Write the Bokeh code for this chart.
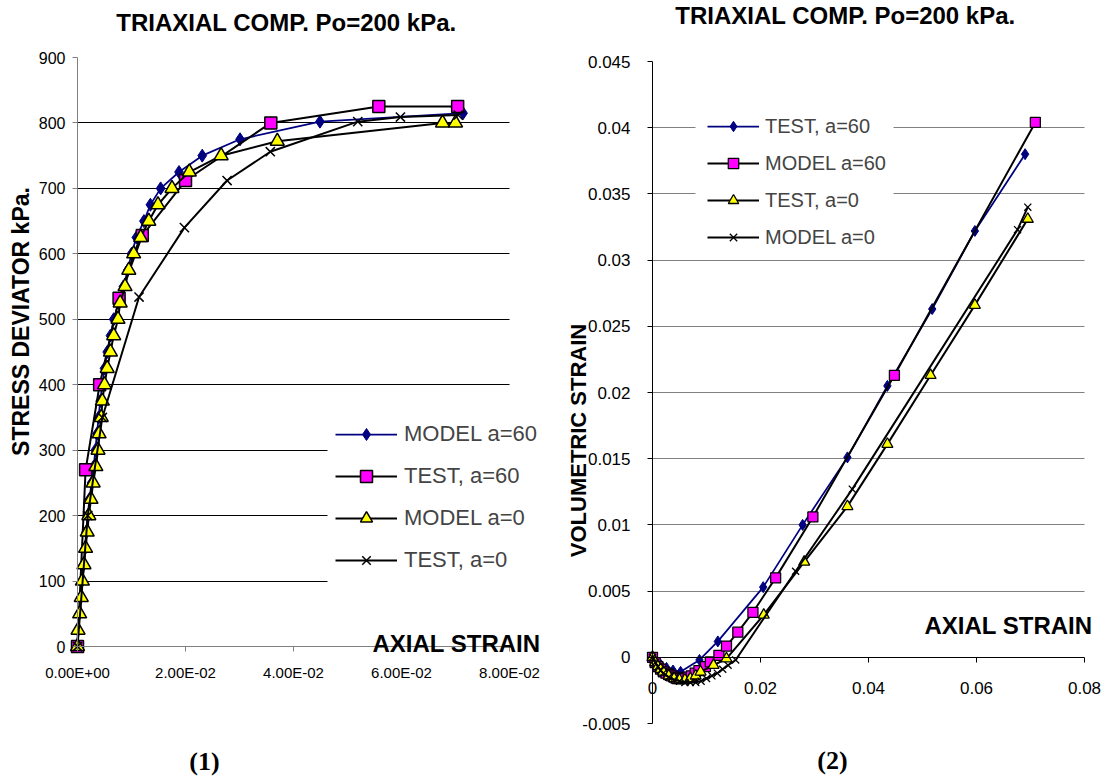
import math
from bokeh.plotting import figure
from bokeh.layouts import row
from bokeh.models import (Range1d, SingleIntervalTicker, FixedTicker,
                          CustomJSTickFormatter, Label, BoxAnnotation)
from bokeh.embed import file_html
from bokeh.resources import INLINE

# ---------------- Chart (1): stress deviator vs axial strain ----------------
model60_strain = [0.0, 0.0001, 0.0003, 0.0006, 0.0008, 0.0011, 0.0014, 0.0016, 0.0019, 0.0022,
                  0.0026, 0.0030, 0.0033, 0.0036, 0.0039, 0.0042, 0.0046, 0.0050, 0.0055, 0.0061,
                  0.0067, 0.0076, 0.0085, 0.0093, 0.0100, 0.0109, 0.0123, 0.0135, 0.0154, 0.0188,
                  0.0231, 0.0301, 0.0449, 0.0714]
model60_q = [0, 25, 50, 75, 100, 125, 150, 175, 200, 225, 250, 275, 300, 325, 350, 375, 400,
             425, 450, 475, 500, 525, 550, 575, 600, 625, 650, 675, 700, 725, 750, 775, 802, 815]

test60_strain = [0.0, 0.0015, 0.0041, 0.0077, 0.0120, 0.0200, 0.0358, 0.0558, 0.0704]
test60_q = [0, 270, 400, 532, 628, 712, 800, 825, 825]

model0_strain = [0.0, 0.0001, 0.0004, 0.0007, 0.0009, 0.0012, 0.0015, 0.0018, 0.0021, 0.0025,
                 0.0029, 0.0034, 0.0038, 0.0040, 0.0044, 0.0046, 0.0050, 0.0055, 0.0061, 0.0067,
                 0.0075, 0.0079, 0.0088, 0.0095, 0.0104, 0.0117, 0.0132, 0.0149, 0.0175, 0.0207,
                 0.0266, 0.0370, 0.0676, 0.0700]
model0_q = [0, 25, 50, 75, 100, 125, 150, 175, 200, 225, 250, 275, 300, 325, 350, 375, 400,
            425, 450, 475, 500, 525, 550, 575, 600, 625, 650, 675, 700, 725, 750, 772, 800, 800]

test0_strain = [0.0, 0.0019, 0.0046, 0.0114, 0.0198, 0.0277, 0.0357, 0.0519, 0.0598, 0.0705]
test0_q = [0, 200, 350, 534, 640, 712, 756, 802, 809, 812]

left_grid = [100, 200, 300, 400, 500, 600, 700, 800]

# ---------------- Chart (2): volumetric strain vs axial strain ----------------
r_test60_ea = [0.0, 0.0008, 0.0016, 0.0026, 0.0038, 0.0052, 0.0087, 0.0121, 0.0205, 0.0278,
               0.0361, 0.0435, 0.0518, 0.0597, 0.0690]
r_test60_ev = [0.0, -0.0003, -0.0006, -0.0008, -0.0010, -0.0011, -0.0002, 0.0012, 0.0053, 0.0100,
               0.0151, 0.0205, 0.0263, 0.0322, 0.0380]

r_model60_ea = [0.0, 0.0005, 0.0010, 0.0015, 0.0020, 0.0025, 0.0030, 0.0035, 0.0040, 0.0045,
                0.0050, 0.0055, 0.0060, 0.0066, 0.0072, 0.0079, 0.0086, 0.0098, 0.0107, 0.0123,
                0.0137, 0.0158, 0.0186, 0.0228, 0.0297, 0.0448, 0.0709]
r_model60_ev = [0.0, -0.0004, -0.0007, -0.0009, -0.0011, -0.0012, -0.0013, -0.0014, -0.0015, -0.0016,
                -0.0016, -0.0016, -0.0016, -0.0015, -0.0014, -0.0012, -0.0010, -0.0007, -0.00035, 0.00015,
                0.00085, 0.0019, 0.0034, 0.0060, 0.0106, 0.0213, 0.0404]

r_test0_ea = [0.0, 0.0005, 0.0010, 0.0015, 0.0020, 0.0030, 0.0040, 0.0050, 0.0060, 0.0070,
              0.0080, 0.0089, 0.0113, 0.0137, 0.0206, 0.0281, 0.0361, 0.0435, 0.0515, 0.0597, 0.0695]
r_test0_ev = [0.0, -0.0004, -0.0007, -0.0009, -0.0011, -0.0014, -0.0016, -0.0017, -0.0017, -0.0016,
              -0.0014, -0.0011, -0.0006, -0.0001, 0.0032, 0.0072, 0.0114, 0.0161, 0.0213, 0.0266, 0.0331]

r_model0_ea = [0.0, 0.0005, 0.0010, 0.0015, 0.0020, 0.0030, 0.0040, 0.0050, 0.0060, 0.0070,
               0.0080, 0.0090, 0.0100, 0.0110, 0.0120, 0.0130, 0.0140, 0.0154, 0.0265, 0.0370,
               0.0676, 0.0695]
r_model0_ev = [0.0, -0.0004, -0.0007, -0.0010, -0.0012, -0.0015, -0.0017, -0.0018, -0.0019, -0.0019,
               -0.0019, -0.0018, -0.0016, -0.0014, -0.0012, -0.0009, -0.0006, -0.0002, 0.0065, 0.0127,
               0.0323, 0.0340]

right_grid = [0.005, 0.01, 0.015, 0.02, 0.025, 0.03, 0.035, 0.04]

NAVY = "#000080"
MAGENTA = "#FF00FF"
YELLOW = "#FFFF00"
FONT = "Liberation Sans"
SERIF = "Liberation Serif"

H = 778  # canvas height (bokeh's page template has no body margin)

sci_fmt = CustomJSTickFormatter(code="""
const s = tick.toExponential(2).toUpperCase();
const parts = s.split('E');
let e = parts[1];
let sign = '+';
if (e[0] === '-') { sign = '-'; e = e.slice(1); } else if (e[0] === '+') { e = e.slice(1); }
if (e.length < 2) { e = '0' + e; }
return parts[0] + 'E' + sign + e;
""")
plain_fmt = CustomJSTickFormatter(code="return String(Math.round(tick*100000)/100000);")


def add_label(p, x, y, text, size, align="center", baseline="middle", angle=0.0,
              font=FONT, style="bold"):
    # x, y: pixel position inside the canvas, y measured from the top
    p.add_layout(Label(x=x, y=H - y, x_units="screen", y_units="screen", text=text,
                       text_align=align, text_baseline=baseline, angle=angle,
                       text_font=font, text_font_style=style, text_font_size=size,
                       text_color="black"))


def legend_backdrop(p, left, right, top, bottom):
    # white area behind the legend (pixels, y from the top), hides the grid lines there
    p.add_layout(BoxAnnotation(left=left, right=right, top=H - top, bottom=H - bottom,
                               left_units="screen", right_units="screen",
                               top_units="screen", bottom_units="screen",
                               fill_color="white", fill_alpha=1.0, line_color=None,
                               level="underlay"))


def style_axis(ax, color, size, standoff):
    ax.axis_line_color = color
    ax.major_tick_line_color = color
    ax.minor_tick_line_color = None
    ax.major_tick_in = 0
    ax.major_tick_out = 5
    ax.major_label_text_font = FONT
    ax.major_label_text_color = "black"
    ax.major_label_text_font_size = size
    ax.major_label_standoff = standoff


def style_legend(lg, loc, gw, gh, spacing, pad, standoff, size):
    lg.location = loc
    lg.glyph_width = gw
    lg.glyph_height = gh
    lg.label_height = gh
    lg.spacing = spacing
    lg.padding = pad
    lg.margin = 0
    lg.label_standoff = standoff
    lg.label_text_font = FONT
    lg.label_text_font_size = size
    lg.border_line_color = None
    lg.background_fill_color = "white"
    lg.background_fill_alpha = 1.0


# ============================ LEFT FIGURE ============================
L_W = 560
LX0, LX1 = 77, 509      # pixel of strain 0 and 0.08
LY0, LY1 = 646, 57      # pixel (from top) of q 0 and 900
lsx = (LX1 - LX0) / 0.08
lsy = (LY0 - LY1) / 900.0

p1 = figure(frame_width=L_W, frame_height=H, min_border=0,
            x_range=Range1d(-LX0 / lsx, (L_W - LX0) / lsx),
            y_range=Range1d(-(H - LY0) / lsy, LY0 / lsy),
            output_backend="svg", toolbar_location=None)
p1.outline_line_color = None
p1.background_fill_color = "white"
p1.border_fill_color = "white"

p1.xgrid.visible = False
p1.ygrid.ticker = FixedTicker(ticks=left_grid)
p1.ygrid.grid_line_color = "black"
p1.ygrid.grid_line_width = 1
p1.ygrid.cross_bounds = (0, 0.08)

legend_backdrop(p1, 327, 560, 400, 592)

xa1 = p1.xaxis[0]
xa1.fixed_location = 0
xa1.bounds = (0, 0.08)
xa1.ticker = SingleIntervalTicker(interval=0.02, num_minor_ticks=0)
xa1.formatter = sci_fmt
style_axis(xa1, "#808080", "15px", 12)

ya1 = p1.yaxis[0]
ya1.fixed_location = 0
ya1.bounds = (0, 900)
ya1.ticker = SingleIntervalTicker(interval=100, num_minor_ticks=0)
style_axis(ya1, "#808080", "16px", 7)

p1.line(model60_strain, model60_q, line_color=NAVY, line_width=1.75, legend_label="MODEL a=60")
p1.scatter(model60_strain, model60_q, marker="diamond", size=13, fill_color=NAVY,
           line_color=NAVY, line_width=1, legend_label="MODEL a=60")

p1.line(test60_strain, test60_q, line_color="black", line_width=2, legend_label="TEST, a=60")
p1.scatter(test60_strain, test60_q, marker="square", size=12, fill_color=MAGENTA,
           line_color="black", line_width=1.5, legend_label="TEST, a=60")

p1.line(model0_strain, model0_q, line_color="black", line_width=2, legend_label="MODEL a=0")
p1.scatter(model0_strain, model0_q, marker="triangle", size=14, fill_color=YELLOW,
           line_color="black", line_width=1.5, legend_label="MODEL a=0")

p1.line(test0_strain, test0_q, line_color="black", line_width=2, legend_label="TEST, a=0")
p1.scatter(test0_strain, test0_q, marker="x", size=13, line_color="black",
           line_width=1.5, legend_label="TEST, a=0")

style_legend(p1.legend[0], (335, 203), 62, 30, 12, 10, 7, "22px")

add_label(p1, 286, 22, "TRIAXIAL COMP. Po=200 kPa.", "24px")
add_label(p1, 20, 321, "STRESS DEVIATOR kPa.", "23px", angle=math.pi / 2)
add_label(p1, 540, 643, "AXIAL STRAIN", "24px", align="right", baseline="alphabetic")
add_label(p1, 204, 761, "(1)", "26px", font=SERIF)

# ============================ RIGHT FIGURE ============================
R_OFF = 560
R_W = 544
RX0, RX1 = 652 - R_OFF, 1084 - R_OFF   # pixel of strain 0 and 0.08
RY0, RY1 = 723, 61                     # pixel (from top) of -0.005 and 0.045
rsx = (RX1 - RX0) / 0.08
rsy = (RY0 - RY1) / 0.05

p2 = figure(frame_width=R_W, frame_height=H, min_border=0,
            x_range=Range1d(-RX0 / rsx, (R_W - RX0) / rsx),
            y_range=Range1d(-0.005 - (H - RY0) / rsy, -0.005 + RY0 / rsy),
            output_backend="svg", toolbar_location=None)
p2.outline_line_color = None
p2.background_fill_color = "white"
p2.border_fill_color = "white"

p2.xgrid.visible = False
p2.ygrid.ticker = FixedTicker(ticks=right_grid)
p2.ygrid.grid_line_color = "#808080"
p2.ygrid.grid_line_width = 1
p2.ygrid.cross_bounds = (0, 0.08)

legend_backdrop(p2, 695 - R_OFF, 893 - R_OFF, 106, 252)

xa2 = p2.xaxis[0]
xa2.fixed_location = 0
xa2.bounds = (0, 0.08)
xa2.ticker = SingleIntervalTicker(interval=0.02, num_minor_ticks=0)
xa2.formatter = plain_fmt
style_axis(xa2, "black", "17px", 20)

ya2 = p2.yaxis[0]
ya2.fixed_location = 0
ya2.bounds = (-0.005, 0.045)
ya2.ticker = SingleIntervalTicker(interval=0.005, num_minor_ticks=0)
ya2.formatter = plain_fmt
style_axis(ya2, "black", "17px", 17)

p2.line(r_test60_ea, r_test60_ev, line_color=NAVY, line_width=1.75, legend_label="TEST, a=60")
p2.scatter(r_test60_ea, r_test60_ev, marker="diamond", size=11, fill_color=NAVY,
           line_color=NAVY, line_width=1, legend_label="TEST, a=60")

p2.line(r_model60_ea, r_model60_ev, line_color="black", line_width=2, legend_label="MODEL a=60")
p2.scatter(r_model60_ea, r_model60_ev, marker="square", size=10, fill_color=MAGENTA,
           line_color="black", line_width=1.3, legend_label="MODEL a=60")

p2.line(r_test0_ea, r_test0_ev, line_color="black", line_width=2, legend_label="TEST, a=0")
p2.scatter(r_test0_ea, r_test0_ev, marker="triangle", size=11, fill_color=YELLOW,
           line_color="black", line_width=1.3, legend_label="TEST, a=0")

p2.line(r_model0_ea, r_model0_ev, line_color="black", line_width=2, legend_label="MODEL a=0")
p2.scatter(r_model0_ea, r_model0_ev, marker="x", size=10, line_color="black",
           line_width=1.3, legend_label="MODEL a=0")

style_legend(p2.legend[0], (147, 528), 52, 26, 11, 6, 6, "20px")

add_label(p2, 845 - R_OFF, 15, "TRIAXIAL COMP. Po=200 kPa.", "24px")
add_label(p2, 578 - R_OFF, 440, "VOLUMETRIC STRAIN", "22px", angle=math.pi / 2)
add_label(p2, 1092 - R_OFF, 625, "AXIAL STRAIN", "24px", align="right", baseline="alphabetic")
add_label(p2, 832 - R_OFF, 760, "(2)", "26px", font=SERIF)

p = row(p1, p2)
open("out.html", "w").write(file_html(p, INLINE))
